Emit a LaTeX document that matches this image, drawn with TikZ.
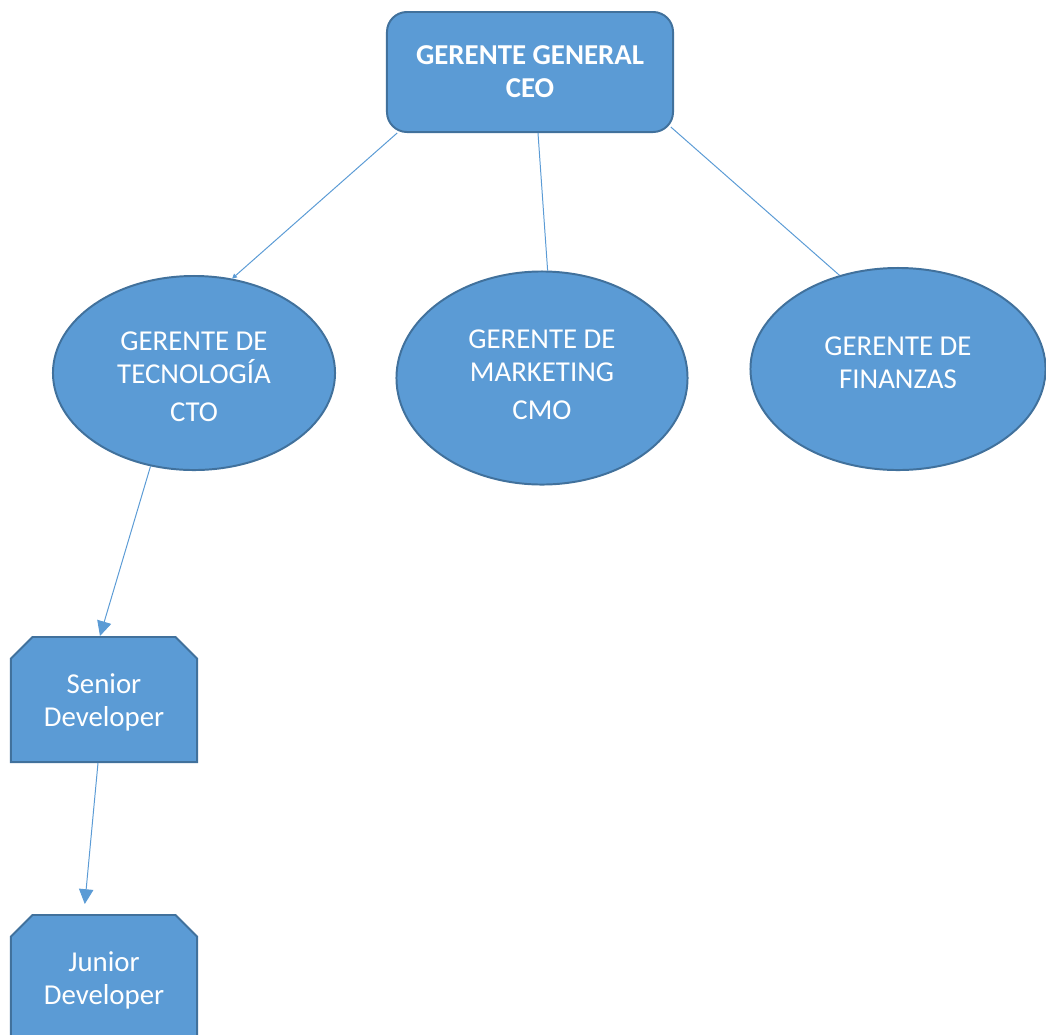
\documentclass[tikz,border=0pt]{standalone}
\usepackage{fontspec}
\setmainfont{Carlito}
\usepackage{tikz}
\usetikzlibrary{shapes.geometric, shapes.misc, arrows.meta}
\definecolor{boxblue}{RGB}{91, 155, 213}
\definecolor{edgeblue}{RGB}{65, 113, 156}

\begin{document}
\begin{tikzpicture}[
    x=0.025cm, y=-0.025cm,
    every node/.style={font=\fontsize{20.5}{23.5}\selectfont, text=white, align=center},
    boss/.style={rectangle, draw=edgeblue, line width=1.4pt, fill=boxblue, rounded corners=0.5cm, minimum width=7.15cm, minimum height=3cm, font=\fontsize{20.5}{23.5}\selectfont\bfseries},
    manager/.style={ellipse, draw=edgeblue, line width=1.4pt, fill=boxblue},
    dev/.style={chamfered rectangle, chamfered rectangle corners={north west, north east}, chamfered rectangle xsep=0.27cm, chamfered rectangle ysep=0.27cm, draw=edgeblue, line width=1.4pt, fill=boxblue, minimum width=4.65cm, minimum height=3.125cm},
    link/.style={draw=boxblue, line width=0.7pt},
    arrow/.style={link, -{Triangle[length=0.37cm, width=0.36cm]}}
]
\useasboundingbox (0,0) rectangle (1046,1034);

% Top
\node[boss] (ceo) at (530,72) {GERENTE GENERAL\\CEO};

% Managers
\node[manager, minimum width=7.05cm, minimum height=4.85cm] (cto) at (194,373) {\rule{0pt}{18.7pt}GERENTE DE\\TECNOLOGÍA\\[0.12cm]CTO};
\node[manager, minimum width=7.275cm, minimum height=5.325cm] (cmo) at (542,378) {GERENTE DE\\MARKETING\\[0.12cm]CMO\rule[-4.3pt]{0pt}{0pt}};
\node[manager, minimum width=7.375cm, minimum height=5.05cm] (cfo) at (898,369) {GERENTE DE\\FINANZAS\rule[-8.5pt]{0pt}{0pt}};

% Developers
\node[dev] (senior) at (104,699.5) {\rule{0pt}{18.7pt}Senior\\Developer};
\node[dev] (junior) at (104,977.5) {\rule{0pt}{18.7pt}Junior\\Developer};

% Links
\draw[link, -{Triangle[length=0.12cm, width=0.12cm]}] ([xshift=0.28cm]ceo.south west) -- (cto.68);
\draw[link] ([xshift=0.2cm]ceo.south) -- (cmo.87);
\draw[link] ([xshift=-0.08cm, yshift=0.15cm]ceo.south east) -- (cfo.122);
\draw[arrow] (cto.-115) -- ([xshift=-0.1cm]senior.north);
\draw[arrow] ([xshift=-0.15cm]senior.south) -- ([xshift=-0.48cm, yshift=0.25cm]junior.north);

\end{tikzpicture}
\end{document}
